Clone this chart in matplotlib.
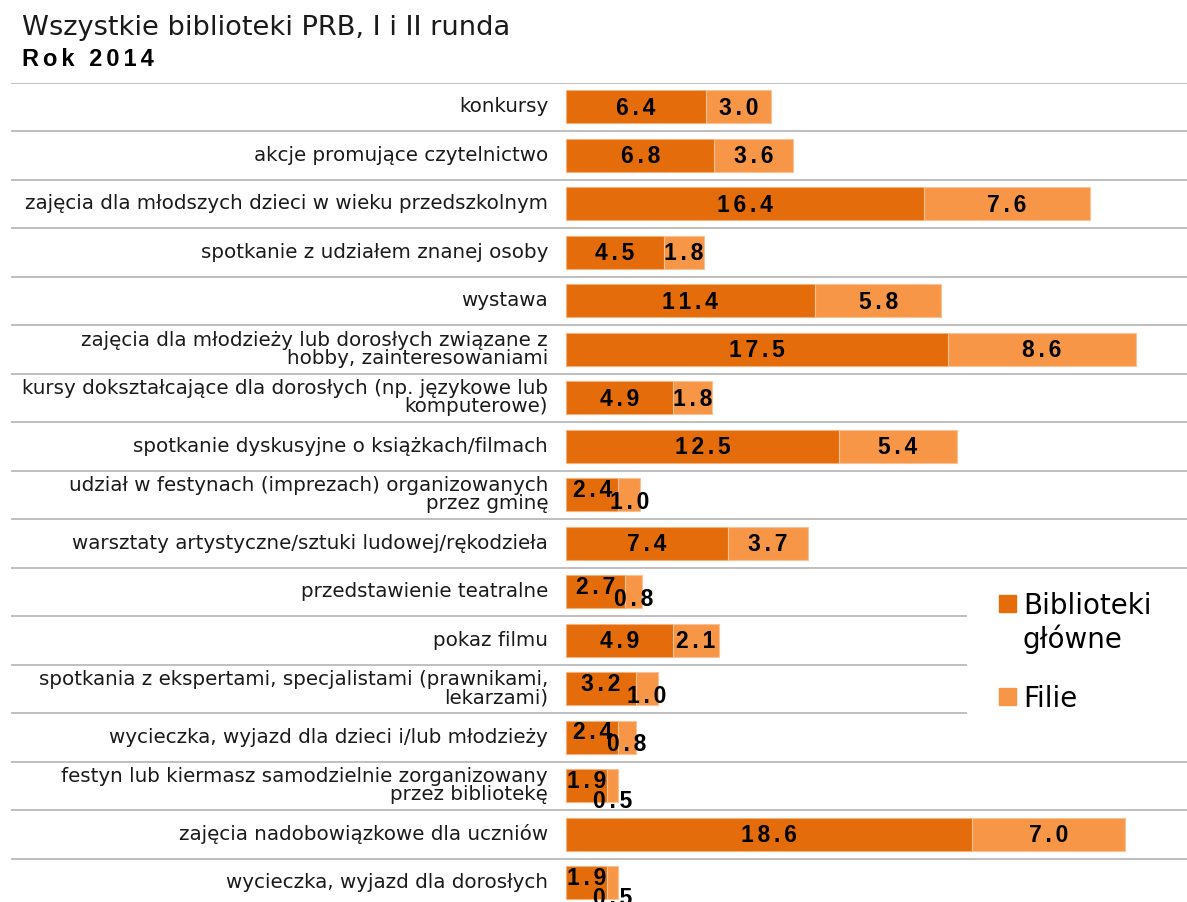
import matplotlib
matplotlib.use('Agg')
from matplotlib import pyplot as plt
from matplotlib.patches import Rectangle

categories = [
    'konkursy',
    'akcje promujące czytelnictwo',
    'zajęcia dla młodszych dzieci w wieku przedszkolnym',
    'spotkanie z udziałem znanej osoby',
    'wystawa',
    'zajęcia dla młodzieży lub dorosłych związane z\nhobby, zainteresowaniami',
    'kursy dokształcające dla dorosłych (np. językowe lub\nkomputerowe)',
    'spotkanie dyskusyjne o książkach/filmach',
    'udział w festynach (imprezach) organizowanych\nprzez gminę',
    'warsztaty artystyczne/sztuki ludowej/rękodzieła',
    'przedstawienie teatralne',
    'pokaz filmu',
    'spotkania z ekspertami, specjalistami (prawnikami,\nlekarzami)',
    'wycieczka, wyjazd dla dzieci i/lub młodzieży',
    'festyn lub kiermasz samodzielnie zorganizowany\nprzez bibliotekę',
    'zajęcia nadobowiązkowe dla uczniów',
    'wycieczka, wyjazd dla dorosłych',
]
glowne = [6.4, 6.8, 16.4, 4.5, 11.4, 17.5, 4.9, 12.5, 2.4, 7.4, 2.7, 4.9, 3.2, 2.4, 1.9, 18.6, 1.9]
filie = [3.0, 3.6, 7.6, 1.8, 5.8, 8.6, 1.8, 5.4, 1.0, 3.7, 0.8, 2.1, 1.0, 0.8, 0.5, 7.0, 0.5]
series_names = ['Biblioteki\ngłówne', 'Filie']

c_dark = '#E46C0A'
c_light = '#F79646'

W, H = 1187, 902
fig = plt.figure(figsize=(W / 100, H / 100), dpi=100)


def fx(x):
    return x / W


def fy(y):
    return 1 - y / H


# axes spans whole width so separator lines can run under the labels
row_px = 48.5
top_px = 82.5
n = len(categories)
ax = fig.add_axes([fx(11), fy(top_px + n * row_px), fx(W - 11), n * row_px / H])
px_per_unit = 21.83
ax.set_xlim(-(566 - 11) / px_per_unit, (W - 566) / px_per_unit)
ax.set_ylim(n - 0.5, -0.5)
ax.axis('off')

rows = list(range(n))
ax.barh(rows, glowne, height=0.68, color=c_dark, edgecolor='#F6B07A', linewidth=0.8, zorder=3)
ax.barh(rows, filie, left=glowne, height=0.68, color=c_light, edgecolor='#FAC195', linewidth=0.8, zorder=3)

legend_left = (967 - 566) / px_per_unit
for i in range(n + 1):
    y = i - 0.5
    # legend box hides the lines next to it
    xmax = legend_left if 10.2 < y < 12.8 else ax.get_xlim()[1]
    ax.hlines(y, ax.get_xlim()[0], xmax, color='#BFBFBF', lw=1.4, zorder=1)


def spaced(s):
    return '\u200a\u200a'.join(s)


lab_font = dict(family='Liberation Sans', weight='bold', fontsize=16.5, color='black')
for i in rows:
    g, f = glowne[i], filie[i]
    dg, df = 0, 0
    if g < 4:
        dg, df = -6, (6 if g >= 2 else 14)
    ax.text(g / 2, i + (8 + dg) / row_px, spaced(f'{g:.1f}'), ha='center', va='baseline', zorder=5, **lab_font)
    ax.text(g + f / 2, i + (8 + df) / row_px, spaced(f'{f:.1f}'), ha='center', va='baseline', zorder=5, **lab_font)
    ax.text(-(566 - 548) / px_per_unit, i, categories[i], ha='right', va='center',
            multialignment='right', fontsize=14.3, family='DejaVu Sans', linespacing=0.95,
            color='#1a1a1a')

# title
fig.text(fx(22), fy(35), 'Wszystkie biblioteki PRB, I i II runda', fontsize=19.6,
         family='DejaVu Sans', va='baseline', color='#1a1a1a')
fig.text(fx(22), fy(66), spaced('Rok 2014'), fontsize=17, family='Liberation Sans',
         weight='bold', va='baseline')

# legend
for col, sq_top in [(c_dark, 595), (c_light, 688)]:
    fig.patches.append(Rectangle((fx(999), fy(sq_top + 17)), 17 / W, 17 / H, color=col,
                                 transform=fig.transFigure, figure=fig))
fig.text(fx(1023), fy(614), series_names[0].split('\n')[0], fontsize=20, family='DejaVu Sans', va='baseline')
fig.text(fx(1023), fy(648), series_names[0].split('\n')[1], fontsize=20, family='DejaVu Sans', va='baseline')
fig.text(fx(1023), fy(707), series_names[1], fontsize=20, family='DejaVu Sans', va='baseline')

plt.savefig('out.png', dpi=100)
